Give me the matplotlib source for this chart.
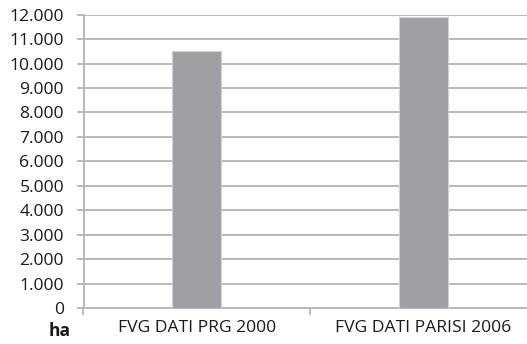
import matplotlib
matplotlib.use("Agg")
import matplotlib.pyplot as plt
from matplotlib.ticker import FuncFormatter

plt.rcParams['font.family'] = ['Open Sans', 'DejaVu Sans']

categories = ["FVG DATI PRG 2000", "FVG DATI PARISI 2006"]
values = [10500, 11900]
yticks = list(range(0, 12001, 1000))

grid_col = '#b9b9b9'
bar_col = '#a0a0a4'
text_col = '#1a1a1a'

fig = plt.figure(figsize=(5.27, 3.44), dpi=100)
ax = fig.add_axes([83.5 / 527, 1 - 308 / 344, 1 - 83.5 / 527, (308 - 14.7) / 344])

x = range(len(categories))
ax.bar(x, values, width=0.216, color=bar_col, edgecolor='#d2d2d4', linewidth=0.8, zorder=3)

ax.set_yticks(yticks)
ax.yaxis.set_major_formatter(FuncFormatter(lambda v, p: f"{int(v):,}".replace(",", ".")))
ax.grid(axis='y', color=grid_col, linewidth=1.4, zorder=0)

# category separators as ticks, labels sit in the middle
ax.set_xticks([-0.5, 0.5, 1.5])
ax.set_xticklabels([])
ax.set_xticks(list(x), minor=True)
ax.set_xticklabels(categories, minor=True)
ax.tick_params(axis='x', which='minor', length=0, pad=9, labelsize=12.6, colors=text_col)
ax.tick_params(axis='x', which='major', length=5, width=1.3, color=grid_col)
ax.tick_params(axis='y', length=5, width=1.4, color=grid_col, labelsize=12.6, labelcolor=text_col, pad=9)

# limits last, so the tick at 1.5 doesn't widen the view
ax.set_ylim(0, 12000)
ax.set_xlim(-0.5, 1.458)

for s in ['top', 'right']:
    ax.spines[s].set_visible(False)
ax.spines['left'].set_color(grid_col)
ax.spines['left'].set_linewidth(1.4)
ax.spines['bottom'].set_color(grid_col)
ax.spines['bottom'].set_linewidth(1.4)

fig.text(59.5 / 527, 1 - 331 / 344, "ha", fontsize=12.5, fontweight='bold', color=text_col,
         ha='center', va='center')

fig.savefig("out.png", dpi=100)
